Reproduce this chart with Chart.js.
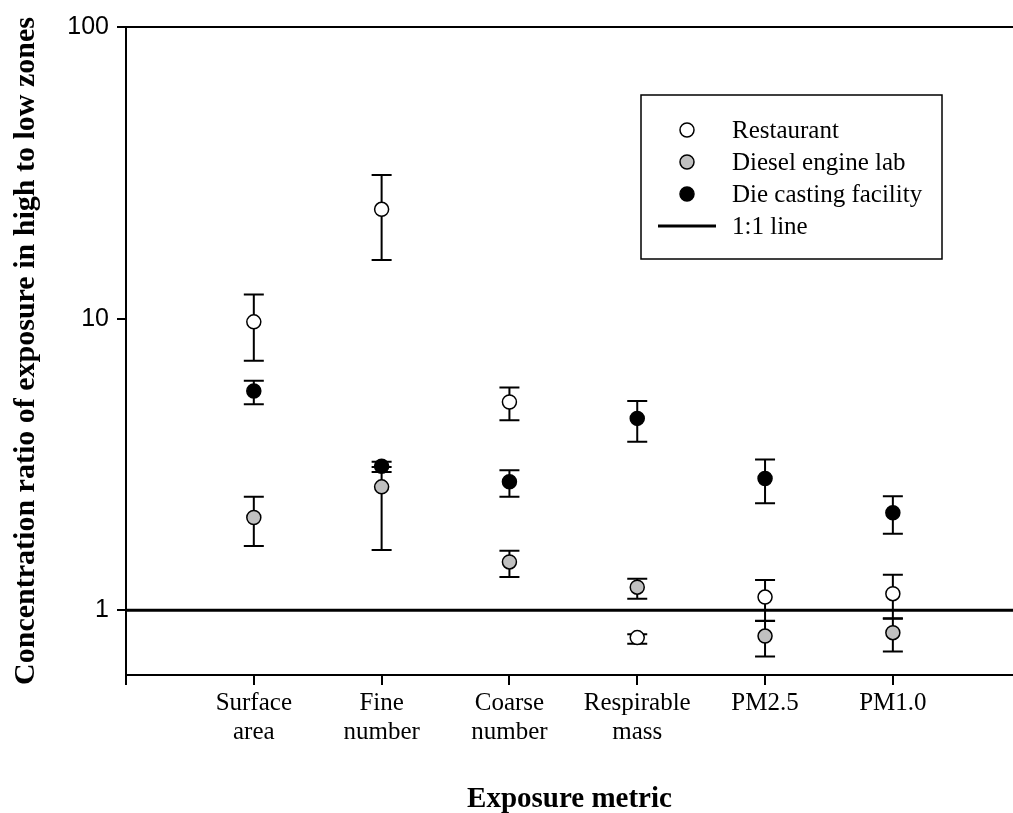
<!DOCTYPE html>
<html>
<head>
<meta charset="utf-8">
<script src="https://cdn.jsdelivr.net/npm/chart.js@4/dist/chart.umd.min.js"></script>
<style>
  html, body { margin: 0; padding: 0; background: #fff; overflow: hidden; }
  canvas { display: block; }
</style>
</head>
<body>
<canvas id="c" width="1013" height="813"></canvas>
<script>
// Exposure metrics (x positions 1..6) and their two-line tick labels
const categories = ['Surface area', 'Fine number', 'Coarse number', 'Respirable mass', 'PM2.5', 'PM1.0'];
const tickLabels = [['Surface', 'area'], ['Fine', 'number'], ['Coarse', 'number'], ['Respirable', 'mass'], ['PM2.5'], ['PM1.0']];
const yTicks = [1, 10, 100];

// High/low zone concentration ratios with error-bar limits
const restaurant     = [9.75, 23.7, 5.18, 0.806, 1.11, 1.14];
const restaurantLow  = [7.17, 15.9, 4.48, 0.768, 0.919, 0.936];
const restaurantHigh = [12.1, 31.1, 5.81, 0.827, 1.27, 1.325];

const diesel     = [2.08, 2.65, 1.465, 1.20, 0.816, 0.838];
const dieselLow  = [1.66, 1.61, 1.30, 1.096, 0.695, 0.723];
const dieselHigh = [2.45, 3.10, 1.60, 1.284, 0.92, 0.94];

const dieCasting     = [5.65, 3.12, 2.76, 4.55, 2.83, 2.16];
const dieCastingLow  = [5.09, 2.98, 2.45, 3.78, 2.33, 1.83];
const dieCastingHigh = [6.12, 3.23, 3.02, 5.22, 3.29, 2.46];

const oneToOne = 1;
const xMax = 6.94;

const toPoints = vals => vals.map((v, i) => ({ x: i + 1, y: v }));

// Vertical error bars with caps, drawn just beneath each dataset's markers
const errorBars = {
  id: 'errorBars',
  beforeDatasetDraw(chart, args) {
    const ds = chart.data.datasets[args.index];
    if (!ds.errLow) return;
    const { ctx, scales: { x, y } } = chart;
    const half = 10;
    ctx.save();
    ctx.strokeStyle = '#000';
    ctx.lineWidth = 2;
    ds.data.forEach((p, i) => {
      const px = x.getPixelForValue(p.x);
      const lo = y.getPixelForValue(ds.errLow[i]);
      const hi = y.getPixelForValue(ds.errHigh[i]);
      ctx.beginPath();
      ctx.moveTo(px, lo); ctx.lineTo(px, hi);
      ctx.moveTo(px - half, lo); ctx.lineTo(px + half, lo);
      ctx.moveTo(px - half, hi); ctx.lineTo(px + half, hi);
      ctx.stroke();
    });
    ctx.restore();
  }
};

// Boxed legend inside the plot area
const boxLegend = {
  id: 'boxLegend',
  afterDraw(chart, args, o) {
    const ctx = chart.ctx;
    ctx.save();
    ctx.strokeStyle = '#000';
    ctx.lineWidth = 1.5;
    ctx.strokeRect(o.x, o.y, o.w, o.h);
    ctx.font = o.font;
    ctx.fillStyle = '#000';
    ctx.textBaseline = 'middle';
    ctx.textAlign = 'left';
    chart.data.datasets.forEach((ds, i) => {
      const cy = o.y + o.firstRow + i * o.rowGap;
      if (ds.type === 'line') {
        ctx.beginPath();
        ctx.lineWidth = ds.borderWidth;
        ctx.strokeStyle = ds.borderColor;
        ctx.moveTo(o.markerX - o.lineHalf, cy);
        ctx.lineTo(o.markerX + o.lineHalf, cy);
        ctx.stroke();
      } else {
        ctx.beginPath();
        ctx.arc(o.markerX, cy, ds.pointRadius, 0, Math.PI * 2);
        ctx.fillStyle = ds.backgroundColor;
        ctx.fill();
        ctx.lineWidth = ds.borderWidth;
        ctx.strokeStyle = ds.borderColor;
        ctx.stroke();
      }
      ctx.fillStyle = '#000';
      ctx.fillText(ds.label, o.textX, cy + 1);
    });
    ctx.restore();
  }
};

const marker = (fill) => ({
  type: 'scatter',
  backgroundColor: fill,
  borderColor: '#000',
  borderWidth: 1.5,
  pointRadius: 7,
  pointHoverRadius: 7
});

new Chart(document.getElementById('c'), {
  data: {
    datasets: [
      Object.assign(marker('#ffffff'), { label: 'Restaurant', data: toPoints(restaurant), errLow: restaurantLow, errHigh: restaurantHigh }),
      Object.assign(marker('#c0c0c0'), { label: 'Diesel engine lab', data: toPoints(diesel), errLow: dieselLow, errHigh: dieselHigh }),
      Object.assign(marker('#000000'), { label: 'Die casting facility', data: toPoints(dieCasting), errLow: dieCastingLow, errHigh: dieCastingHigh }),
      {
        type: 'line', label: '1:1 line',
        data: [{ x: 0, y: oneToOne }, { x: xMax, y: oneToOne }],
        borderColor: '#000', borderWidth: 3, pointRadius: 0, fill: false
      }
    ]
  },
  options: {
    responsive: false,
    animation: false,
    layout: { autoPadding: false, padding: { top: 27, left: 0, right: 0, bottom: 0 } },
    plugins: {
      legend: { display: false },
      tooltip: { enabled: false },
      boxLegend: {
        x: 641, y: 95, w: 301, h: 164,
        firstRow: 35, rowGap: 32,
        markerX: 687, lineHalf: 29, textX: 732,
        font: '25px "Liberation Serif", "Times New Roman", serif'
      }
    },
    scales: {
      x: {
        type: 'linear', min: 0, max: xMax,
        afterFit: s => { s.height = 138; s.paddingLeft = 0; s.paddingRight = 0; },
        afterBuildTicks: s => { s.ticks = [0, 1, 2, 3, 4, 5, 6].map(v => ({ value: v })); },
        ticks: {
          autoSkip: false, maxRotation: 0, padding: 4,
          color: '#000',
          font: { family: '"Liberation Serif", "Times New Roman", serif', size: 25, lineHeight: 1.15 },
          callback: v => (v >= 1 && v <= categories.length) ? tickLabels[v - 1] : ''
        },
        grid: { drawOnChartArea: false, color: '#000', tickLength: 10, lineWidth: 2 },
        border: { display: true, color: '#000', width: 2 },
        title: {
          display: true, text: 'Exposure metric', color: '#000',
          font: { family: '"Liberation Serif", "Times New Roman", serif', size: 29, weight: 'bold' },
          padding: { top: 0, bottom: -4 }
        }
      },
      y: {
        type: 'logarithmic', min: 0.6, max: 100,
        afterFit: s => { s.width = 126; },
        afterBuildTicks: s => { s.ticks = yTicks.map(v => ({ value: v })); },
        ticks: {
          padding: 8, color: '#000',
          font: { family: '"Liberation Sans", Arial, sans-serif', size: 25 },
          callback: v => yTicks.includes(v) ? String(v) : ''
        },
        grid: {
          tickLength: 9, tickColor: '#000', lineWidth: 2,
          color: c => (c.tick && c.tick.value === 100) ? '#000' : 'rgba(0,0,0,0)'
        },
        border: { display: true, color: '#000', width: 2 },
        title: {
          display: true, text: 'Concentration ratio of exposure in high to low zones', color: '#000',
          font: { family: '"Liberation Serif", "Times New Roman", serif', size: 30, weight: 'bold' },
          padding: { top: 8, bottom: 0 }
        }
      }
    }
  },
  plugins: [errorBars, boxLegend]
});
</script>
</body>
</html>
